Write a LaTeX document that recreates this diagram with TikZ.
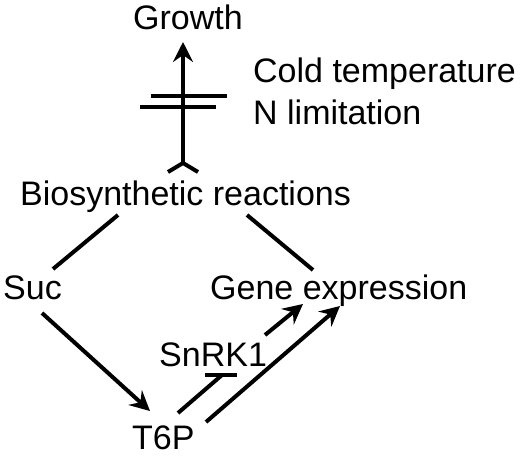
\documentclass[tikz,border=0pt]{standalone}
\usepackage{fontspec}
\setmainfont{Liberation Sans}
\usetikzlibrary{arrows.meta}
\begin{document}
\begin{tikzpicture}[x=1pt,y=-1pt,
  lbl/.style={anchor=base west,inner sep=0pt,font=\fontsize{34}{40}\selectfont},
  conn/.style={line width=4pt},
  act/.style={conn,-{Stealth[length=20pt,width=20pt,inset=7pt]}}]
\useasboundingbox (0,0) rectangle (520,456);
% labels
\node[lbl] (growth) at (133,29) {Growth};
\node[lbl] (cold) at (253,82) {Cold temperature};
\node[lbl] (nlim) at (253,124) {N limitation};
\node[lbl] (bio) at (20,205) {Biosynthetic reactions};
\node[lbl] (suc) at (3,299) {Suc};
\node[lbl] (gene) at (210,299) {Gene expression};
\node[lbl] (snrk) at (159,366) {SnRK1};
\node[lbl] (t6p) at (132,449) {T6P};
% connector end points
\coordinate (gtop) at (183,42);
\coordinate (gbot) at (183,163);
\coordinate (forkL) at (168,172);
\coordinate (forkR) at (198,172);
\coordinate (barAl) at (151,96);
\coordinate (barAr) at (227,96);
\coordinate (barBl) at (140,107);
\coordinate (barBr) at (216,107);
\coordinate (bioL) at (118,215);
\coordinate (sucT) at (53,269);
\coordinate (bioR) at (247,215);
\coordinate (geneT) at (313,270);
\coordinate (sucB) at (42,313);
\coordinate (t6pT) at (150,411);
\coordinate (t6pA) at (178,413);
\coordinate (snrkB) at (222,375);
\coordinate (inhL) at (205,375);
\coordinate (inhR) at (237,375);
\coordinate (snrkR) at (265,335);
\coordinate (geneA) at (303,304);
\coordinate (t6pR) at (206,422);
\coordinate (geneB) at (340,306);
% growth block
\draw[act] (gbot) -- (gtop);
\draw[conn] (forkL) -- (gbot) -- (forkR);
\draw[conn] (barAl) -- (barAr);
\draw[conn] (barBl) -- (barBr);
% network
\draw[conn] (bioL) -- (sucT);
\draw[conn] (bioR) -- (geneT);
\draw[act] (sucB) -- (t6pT);
\draw[conn] (t6pA) -- (snrkB);
\draw[conn] (inhL) -- (inhR);
\draw[act] (snrkR) -- (geneA);
\draw[act] (t6pR) -- (geneB);
\end{tikzpicture}
\end{document}
